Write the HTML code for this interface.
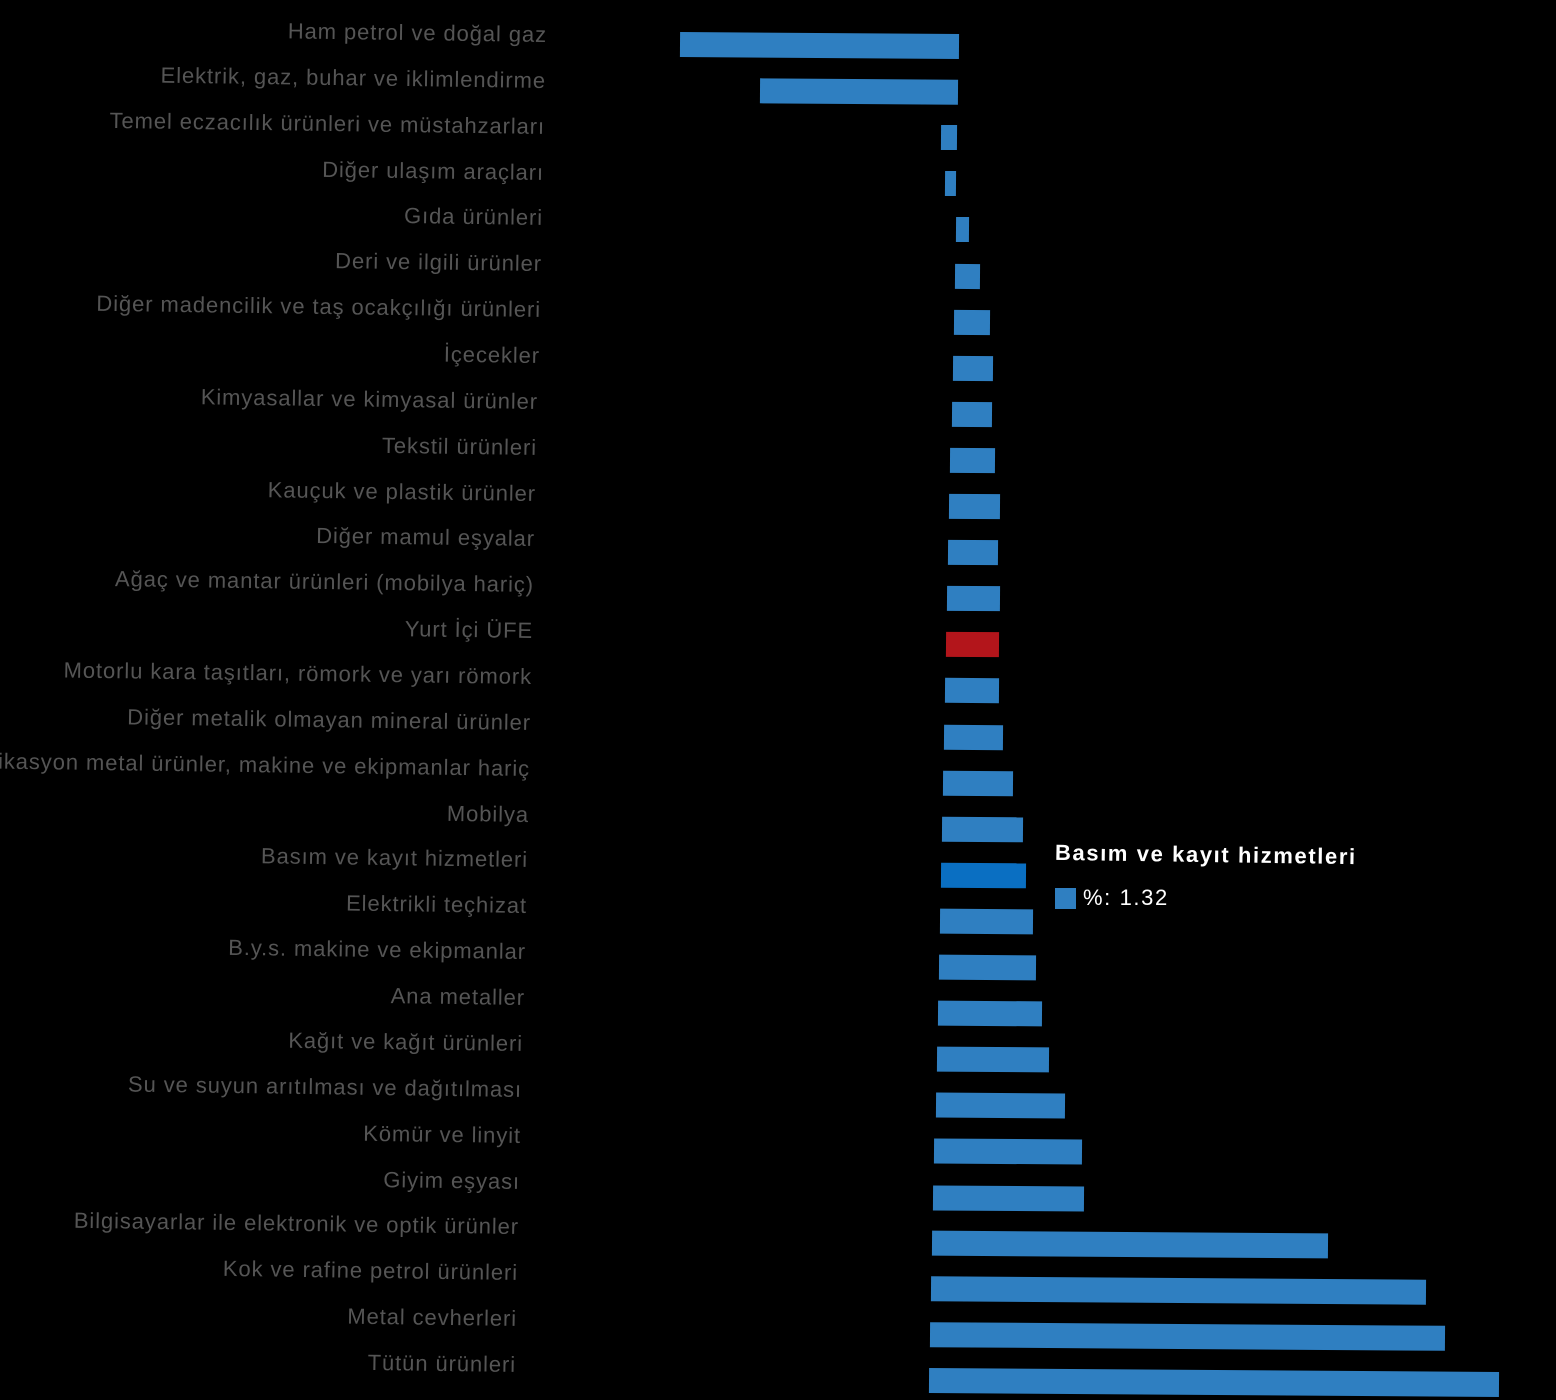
<!DOCTYPE html>
<html><head><meta charset="utf-8"><style>
html,body{margin:0;padding:0;background:#000;width:1556px;height:1400px;overflow:hidden;position:relative;font-family:"Liberation Sans",sans-serif}
.l{position:absolute;color:#555;font-size:22px;letter-spacing:0.9px;white-space:nowrap;text-align:right;width:900px;transform:rotate(0.8deg);transform-origin:right center}
.b{position:absolute;height:25px;background:#2f7fc1;transform:rotate(0.4deg)}
</style></head><body>
<div id="c"></div>
<div style="position:absolute;left:1055px;top:842px;color:#fff;font-weight:bold;font-size:22px;letter-spacing:1.6px;white-space:nowrap;transform:rotate(0.8deg)">Basım ve kayıt hizmetleri</div>
<div style="position:absolute;left:1055px;top:888px;width:21px;height:21px;background:#2f7fc1"></div>
<div style="position:absolute;left:1083px;top:885px;color:#fff;font-size:22px;letter-spacing:1.6px">%: 1.32</div>
<script>
var d=[["Ham petrol ve doğal gaz",680,959],["Elektrik, gaz, buhar ve iklimlendirme",760,958],["Temel eczacılık ürünleri ve müstahzarları",941,957],["Diğer ulaşım araçları",945,956],["Gıda ürünleri",956,969],["Deri ve ilgili ürünler",955,980],["Diğer madencilik ve taş ocakçılığı ürünleri",954,990],["İçecekler",953,993],["Kimyasallar ve kimyasal ürünler",952,992],["Tekstil ürünleri",950,995],["Kauçuk ve plastik ürünler",949,1000],["Diğer mamul eşyalar",948,998],["Ağaç ve mantar ürünleri (mobilya hariç)",947,1000],["Yurt İçi ÜFE",946,999],["Motorlu kara taşıtları, römork ve yarı römork",945,999],["Diğer metalik olmayan mineral ürünler",944,1003],["Fabrikasyon metal ürünler, makine ve ekipmanlar hariç",943,1013],["Mobilya",942,1023],["Basım ve kayıt hizmetleri",941,1026],["Elektrikli teçhizat",940,1033],["B.y.s. makine ve ekipmanlar",939,1036],["Ana metaller",938,1042],["Kağıt ve kağıt ürünleri",937,1049],["Su ve suyun arıtılması ve dağıtılması",936,1065],["Kömür ve linyit",934,1082],["Giyim eşyası",933,1084],["Bilgisayarlar ile elektronik ve optik ürünler",932,1328],["Kok ve rafine petrol ürünleri",931,1426],["Metal cevherleri",930,1445],["Tütün ürünleri",929,1499]];
var h="";
d.forEach(function(r,i){
 var y=45+i*46.1;
 var ly=35+i*45.86;
 var re=547-i*31/29;
 var col=i==13?"#b3151b":(i==18?"#0a6fc2":"#2f7fc1");
 h+='<div class="l" style="left:'+(re-900)+'px;top:'+(ly-13)+'px">'+r[0]+'</div>';
 h+='<div class="b" style="left:'+r[1]+'px;width:'+(r[2]-r[1])+'px;top:'+(y-12)+'px;background:'+col+'"></div>';
});
document.getElementById("c").innerHTML=h;
</script>
</body></html>
